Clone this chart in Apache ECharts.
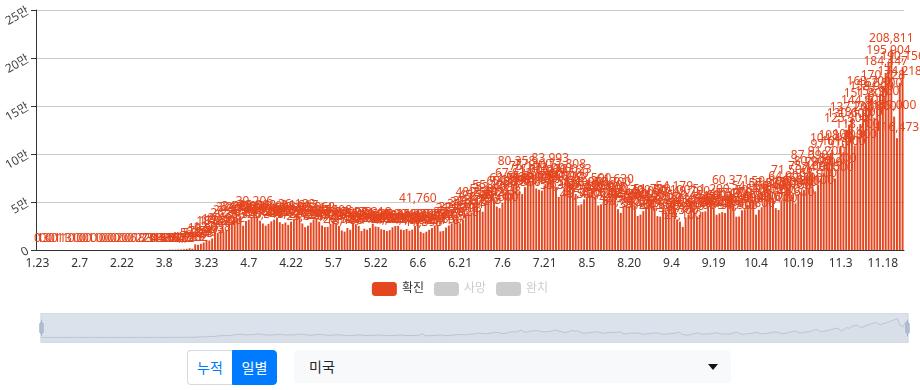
<!DOCTYPE html>
<html>
<head>
<meta charset="utf-8">
<script src="https://cdn.jsdelivr.net/npm/echarts@6/dist/echarts.min.js"></script>
<style>
  html, body { margin:0; padding:0; background:#fff; width:920px; height:390px; overflow:hidden;
    font-family: 'Noto Sans', 'Noto Sans CJK KR', sans-serif; }
  #chart { position:absolute; left:0; top:0; width:920px; height:348px; }
  .btn { position:absolute; top:350px; height:35px; width:45px; box-sizing:border-box; font-size:14px;
    line-height:33px; text-align:center; font-family:'Noto Sans CJK KR', sans-serif; }
  #b1 { left:187px; border:1px solid #d6dbe0; border-right:none; color:#007bff; background:#fff; border-radius:4px 0 0 4px; }
  #b2 { left:232px; background:#007bff; color:#fff; border:1px solid #007bff; border-radius:0 4px 4px 0; }
  #sel { position:absolute; left:294px; top:350px; width:437px; height:33px; background:#f8f9fa; border-radius:4px;
    font-family:'Noto Sans CJK KR', sans-serif; font-size:14px; color:#212529; line-height:33px; box-sizing:border-box; padding-left:15px; }
  #caret { position:absolute; right:13px; top:14px; width:0; height:0; border-left:5px solid transparent;
    border-right:5px solid transparent; border-top:6px solid #111; }
</style>
</head>
<body>
<div id="chart"></div>
<div class="btn" id="b1">누적</div>
<div class="btn" id="b2">일별</div>
<div id="sel">미국<div id="caret"></div></div>
<script>
// Daily confirmed cases (2020), by month
const jan = [0,1,0,3,0,0,0,1,1];
const feb = [1,1,3,0,1,0,0,0,0,0,1,0,1,0,0,0,0,0,0,0,2,0,0,0,0,6,1,2,8];
const mar = [7,23,20,31,68,45,140,116,65,376,322,382,516,548,772,1133,1789,1362,5894,5423,6389,7787,10571,9893,12038,18058,17821,19821,19408,20922,26341];
const apr = [29874,32284,32922,34184,25300,30140,31600,33331,39206,35098,30576,27612,25315,27186,29851,31624,33903,28992,27147,28623,26120,29513,32065,36188,34617,27631,23816,25378,28532,31214];
const may = [33062,29474,25501,23920,24136,27322,29508,27640,25140,20329,19150,22908,21128,27438,26881,25126,19774,22164,21099,23018,27318,24461,23880,21608,20889,19721,20708,23598,25004,25156,21350];
const jun = [20733,21882,20138,21236,24939,41760,18905,17598,19057,21067,22884,25534,25563,19410,19890,23405,25451,27762,31471,32411,27928,31498,35891,38115,39072,48255,45581,41556,39813,48042];
const jul = [51097,55220,53400,45282,43600,49038,60209,62751,59886,67632,80358,60600,58300,65500,75100,71600,77300,64000,62800,61800,67300,71000,83993,73000,65500,55300,56900,64800,77808,68500,72023];
const aug = [58400,46500,47700,52800,55100,58900,62500,54800,46400,47600,55900,53400,52600,58700,61630,42500,38700,44700,47400,45800,50700,46300,35400,36900,40500,45100,49000,51700,44200,35300,34800];
const sep = [42400,40200,45500,50100,54179,31700,29500,24100,33900,36500,49700,41500,35000,36700,39600,40300,45600,51200,44000,36700,38200,39500,38500,47300,60371,47200,34700,34900,41300,42400];
const oct = [46800,54900,50400,36800,41800,44600,51400,57900,59800,54400,43600,41700,51800,57800,64900,71500,55700,48600,58400,60300,62700,75100,87090,80900,61100,68000,74300,79900,91200,97910,104400];
const nov = [74500,84200,108200,101900,125300,130600,137200,108900,118700,131200,144600,151800,163700,158900,137800,153900,162300,170728,184447,195904,208811,139000,116473,174218,190156];

const confirmed = [].concat(jan, feb, mar, apr, may, jun, jul, aug, sep, oct, nov);
const deaths = [];
const recovered = [];
const seriesNames = ['확진', '사망', '완치'];
const yTicks = [0, 50000, 100000, 150000, 200000, 250000];

// category labels M.D from 1.23
const startMonth = 1, startDay = 23;
const dates = [];
{
  const d = new Date(2020, startMonth - 1, startDay);
  for (let i = 0; i < confirmed.length; i++) {
    dates.push((d.getMonth() + 1) + '.' + d.getDate());
    d.setDate(d.getDate() + 1);
  }
}

const RED = '#e4461f';
const FONT = "'Noto Sans', 'Noto Sans CJK KR', sans-serif";
const chart = echarts.init(document.getElementById('chart'), null, { renderer: 'canvas' });
chart.setOption({
  animation: false,
  textStyle: { fontFamily: FONT },
  grid: { left: 36, right: 16, top: 10, bottom: 98, containLabel: false },
  legend: {
    data: seriesNames, top: 277, left: 'center', itemWidth: 25, itemHeight: 14, itemGap: 10,
    selected: { '사망': false, '완치': false }, inactiveColor: '#ccc',
    textStyle: { fontSize: 12, color: '#333', fontFamily: FONT }
  },
  xAxis: {
    type: 'category', data: dates,
    axisLine: { lineStyle: { color: '#333' } },
    axisTick: { interval: 14, alignWithLabel: true, lineStyle: { color: '#333' } },
    axisLabel: { interval: 14, color: '#333', fontSize: 12, margin: 8 }
  },
  yAxis: {
    type: 'value', min: yTicks[0], max: yTicks[yTicks.length - 1], interval: yTicks[1] - yTicks[0],
    axisLine: { show: true, lineStyle: { color: '#333' } },
    axisTick: { show: true, lineStyle: { color: '#333' } },
    splitLine: { lineStyle: { color: '#ccc' } },
    axisLabel: { rotate: 30, color: '#444', fontSize: 12,
      formatter: v => v === 0 ? '0' : (v / 10000) + '만' }
  },
  dataZoom: [{
    type: 'slider', xAxisIndex: 0, start: 0, end: 100,
    left: 38, right: 14, top: 313, height: 30,
    showDetail: false, brushSelect: false, moveHandleSize: 0, handleSize: '55%',
    backgroundColor: 'rgba(0,0,0,0)', borderColor: '#d5dbe6',
    fillerColor: 'rgba(167,183,204,0.4)',
    handleStyle: { color: '#b3bfd0', borderColor: '#a3b1c6' },
    dataBackground: { lineStyle: { color: '#b8c0cc', width: 0.8 }, areaStyle: { color: 'rgba(47,69,84,0.06)' } },
    selectedDataBackground: { lineStyle: { color: '#b8c0cc', width: 0.8 }, areaStyle: { color: 'rgba(47,69,84,0.06)' } }
  }],
  series: [
    { name: seriesNames[0], type: 'bar', data: confirmed, itemStyle: { color: RED },
      label: { show: true, position: 'top', color: RED, fontSize: 12, fontFamily: FONT,
        formatter: p => Number(p.value).toLocaleString('en-US') } },
    { name: seriesNames[1], type: 'bar', data: deaths, itemStyle: { color: '#555' } },
    { name: seriesNames[2], type: 'bar', data: recovered, itemStyle: { color: '#2a9d8f' } }
  ]
});
</script>
</body>
</html>
